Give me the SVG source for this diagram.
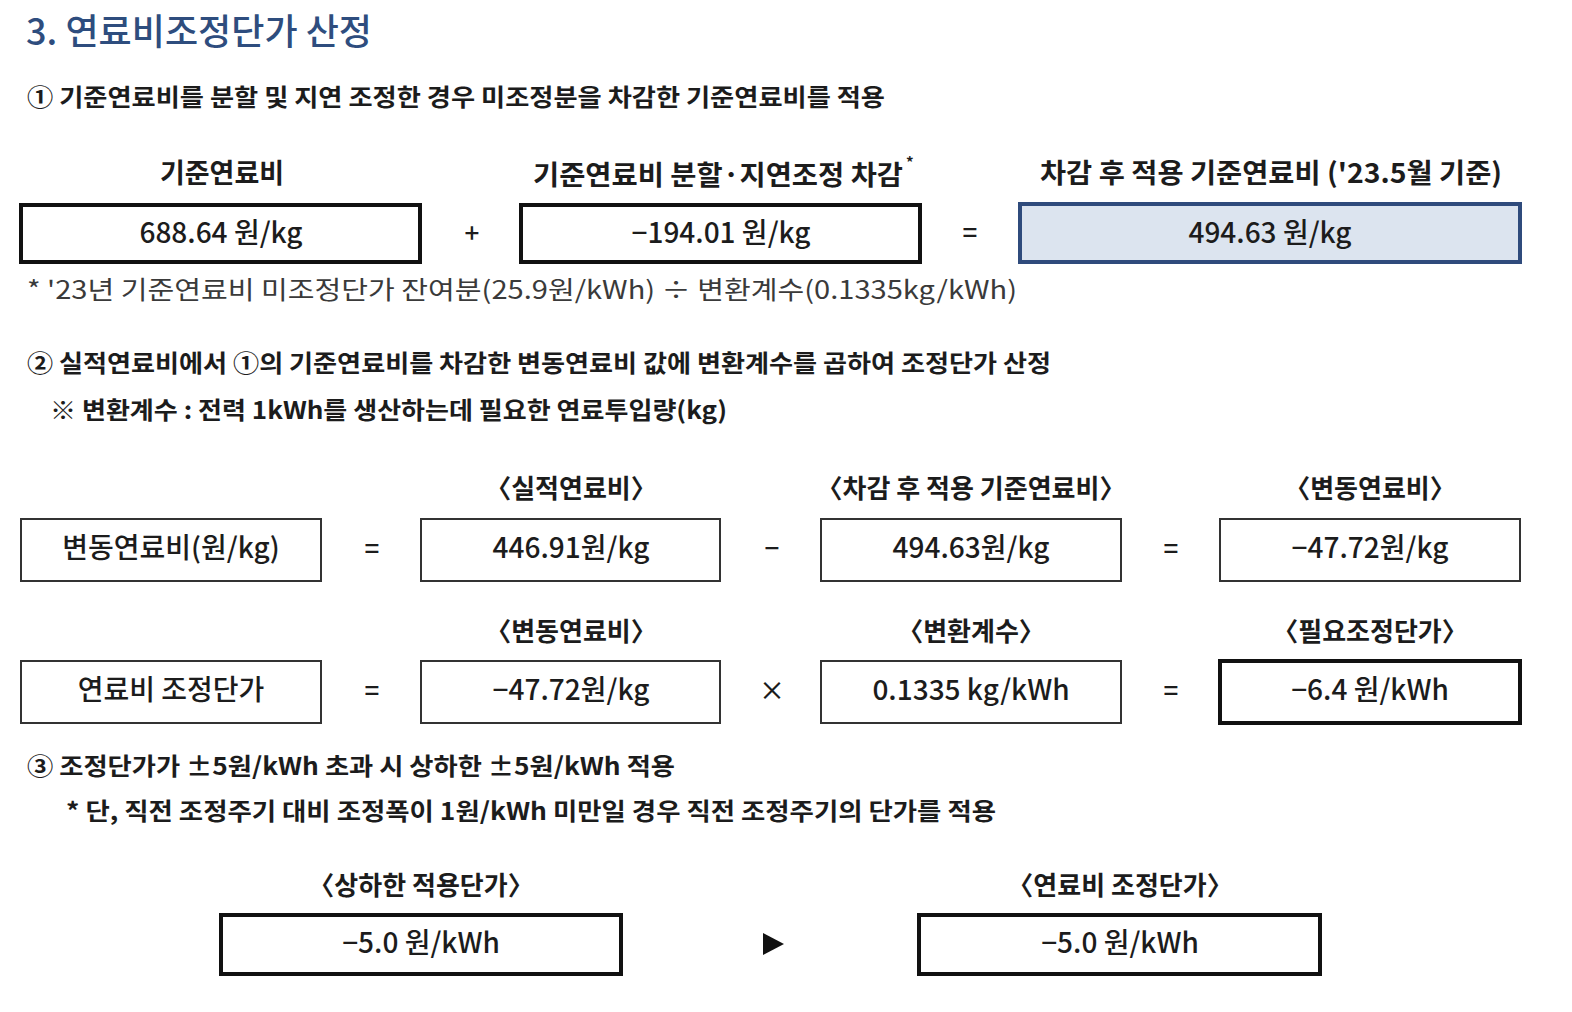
<svg xmlns="http://www.w3.org/2000/svg" width="1572" height="1012" viewBox="0 0 1572 1012">
<style>
text{font-family:"Noto Sans CJK KR","Noto Sans",sans-serif;fill:#1c1c1c}
.title{font-size:36px;font-weight:500;fill:#2e4d7e}
.sec{font-size:24px;font-weight:700}
.note{font-size:25px;font-weight:400;fill:#3a3a3a}
.hd{font-size:27px;font-weight:700;text-anchor:middle}
.hd2{font-size:26px;font-weight:700;text-anchor:middle}
.val{font-size:28px;font-weight:500;text-anchor:middle}
.op{font-size:26px;font-weight:500;text-anchor:middle}
.thick{fill:#fff;stroke:#111;stroke-width:4}
.thin{fill:#fff;stroke:#333;stroke-width:2}
.blue{fill:#dce4ef;stroke:#2f4b7c;stroke-width:4}
</style>
<rect width="1572" height="1012" fill="#fff"/>
<g id="title"><text class="title" x="26" y="45" textLength="346" lengthAdjust="spacingAndGlyphs">3. 연료비조정단가 산정</text></g>
<g id="step1"><text class="sec" x="27" y="106" textLength="858" lengthAdjust="spacingAndGlyphs">① 기준연료비를 분할 및 지연 조정한 경우 미조정분을 차감한 기준연료비를 적용</text></g>

<g id="base-fuel">
<text class="hd" x="222" y="183">기준연료비</text>
<rect class="thick" x="21" y="205" width="399" height="57"/>
<text class="val" x="221" y="243">688.64 원/kg</text>
</g>
<g id="deduction">
<text class="hd" x="718" y="185" textLength="370" lengthAdjust="spacingAndGlyphs">기준연료비 분할·지연조정 차감</text>
<text x="906" y="168" font-size="15" font-weight="700">*</text>
<rect class="thick" x="521" y="205" width="399" height="57"/>
<text class="val" x="721" y="243">−194.01 원/kg</text>
</g>
<g id="applied-base">
<text class="hd" x="1271" y="183" textLength="462" lengthAdjust="spacingAndGlyphs">차감 후 적용 기준연료비 ('23.5월 기준)</text>
<rect class="blue" x="1020" y="204" width="500" height="58"/>
<text class="val" x="1270" y="243">494.63 원/kg</text>
</g>
<g id="footnote1"><text class="note" x="27" y="299" textLength="990" lengthAdjust="spacingAndGlyphs">* '23년 기준연료비 미조정단가 잔여분(25.9원/kWh) ÷ 변환계수(0.1335kg/kWh)</text></g>

<g id="step2">
<text class="sec" x="27" y="372" textLength="1024" lengthAdjust="spacingAndGlyphs">② 실적연료비에서 ①의 기준연료비를 차감한 변동연료비 값에 변환계수를 곱하여 조정단가 산정</text>
<text class="sec" x="50" y="419" textLength="677" lengthAdjust="spacingAndGlyphs">※ 변환계수 : 전력 1kWh를 생산하는데 필요한 연료투입량(kg)</text>
</g>

<g id="var-label">
<rect class="thin" x="21" y="519" width="300" height="62"/>
<text class="val" x="171" y="558">변동연료비(원/kg)</text>
</g>
<g id="actual-fuel">
<text class="hd2" x="571" y="498">〈실적연료비〉</text>
<rect class="thin" x="421" y="519" width="299" height="62"/>
<text class="val" x="571" y="558">446.91원/kg</text>
</g>
<g id="applied-base-2">
<text class="hd2" x="971" y="498">〈차감 후 적용 기준연료비〉</text>
<rect class="thin" x="821" y="519" width="300" height="62"/>
<text class="val" x="971" y="558">494.63원/kg</text>
</g>
<g id="var-fuel">
<text class="hd2" x="1370" y="498">〈변동연료비〉</text>
<rect class="thin" x="1220" y="519" width="300" height="62"/>
<text class="val" x="1370" y="558">−47.72원/kg</text>
</g>

<g id="adj-label">
<rect class="thin" x="21" y="661" width="300" height="62"/>
<text class="val" x="171" y="700">연료비 조정단가</text>
</g>
<g id="var-fuel-2">
<text class="hd2" x="571" y="641">〈변동연료비〉</text>
<rect class="thin" x="421" y="661" width="299" height="62"/>
<text class="val" x="571" y="700">−47.72원/kg</text>
</g>
<g id="conv-factor">
<text class="hd2" x="971" y="641">〈변환계수〉</text>
<rect class="thin" x="821" y="661" width="300" height="62"/>
<text class="val" x="971" y="700">0.1335 kg/kWh</text>
</g>
<g id="required-adj">
<text class="hd2" x="1370" y="641">〈필요조정단가〉</text>
<rect class="thick" x="1220" y="661" width="300" height="62"/>
<text class="val" x="1370" y="700">−6.4 원/kWh</text>
</g>

<g id="step3">
<text class="sec" x="27" y="775" textLength="648" lengthAdjust="spacingAndGlyphs">③ 조정단가가 ±5원/kWh 초과 시 상하한 ±5원/kWh 적용</text>
<text class="sec" x="66" y="820" textLength="930" lengthAdjust="spacingAndGlyphs">* 단, 직전 조정주기 대비 조정폭이 1원/kWh 미만일 경우 직전 조정주기의 단가를 적용</text>
</g>

<g id="capped">
<text class="hd2" x="421" y="895">〈상하한 적용단가〉</text>
<rect class="thick" x="221" y="915" width="400" height="59"/>
<text class="val" x="421" y="953">−5.0 원/kWh</text>
</g>
<g id="final-adj">
<text class="hd2" x="1120" y="895">〈연료비 조정단가〉</text>
<rect class="thick" x="919" y="915" width="401" height="59"/>
<text class="val" x="1120" y="953">−5.0 원/kWh</text>
</g>

<g id="connectors">
<text class="op" x="472" y="243">+</text>
<text class="op" x="970" y="242">=</text>
<text class="op" x="372" y="558">=</text>
<text class="op" x="772" y="558">−</text>
<text class="op" x="1171" y="558">=</text>
<text class="op" x="372" y="700">=</text>
<text class="op" x="772" y="700">×</text>
<text class="op" x="1171" y="700">=</text>
<polygon points="763,933 784,944 763,955" fill="#111"/>
</g>
</svg>
